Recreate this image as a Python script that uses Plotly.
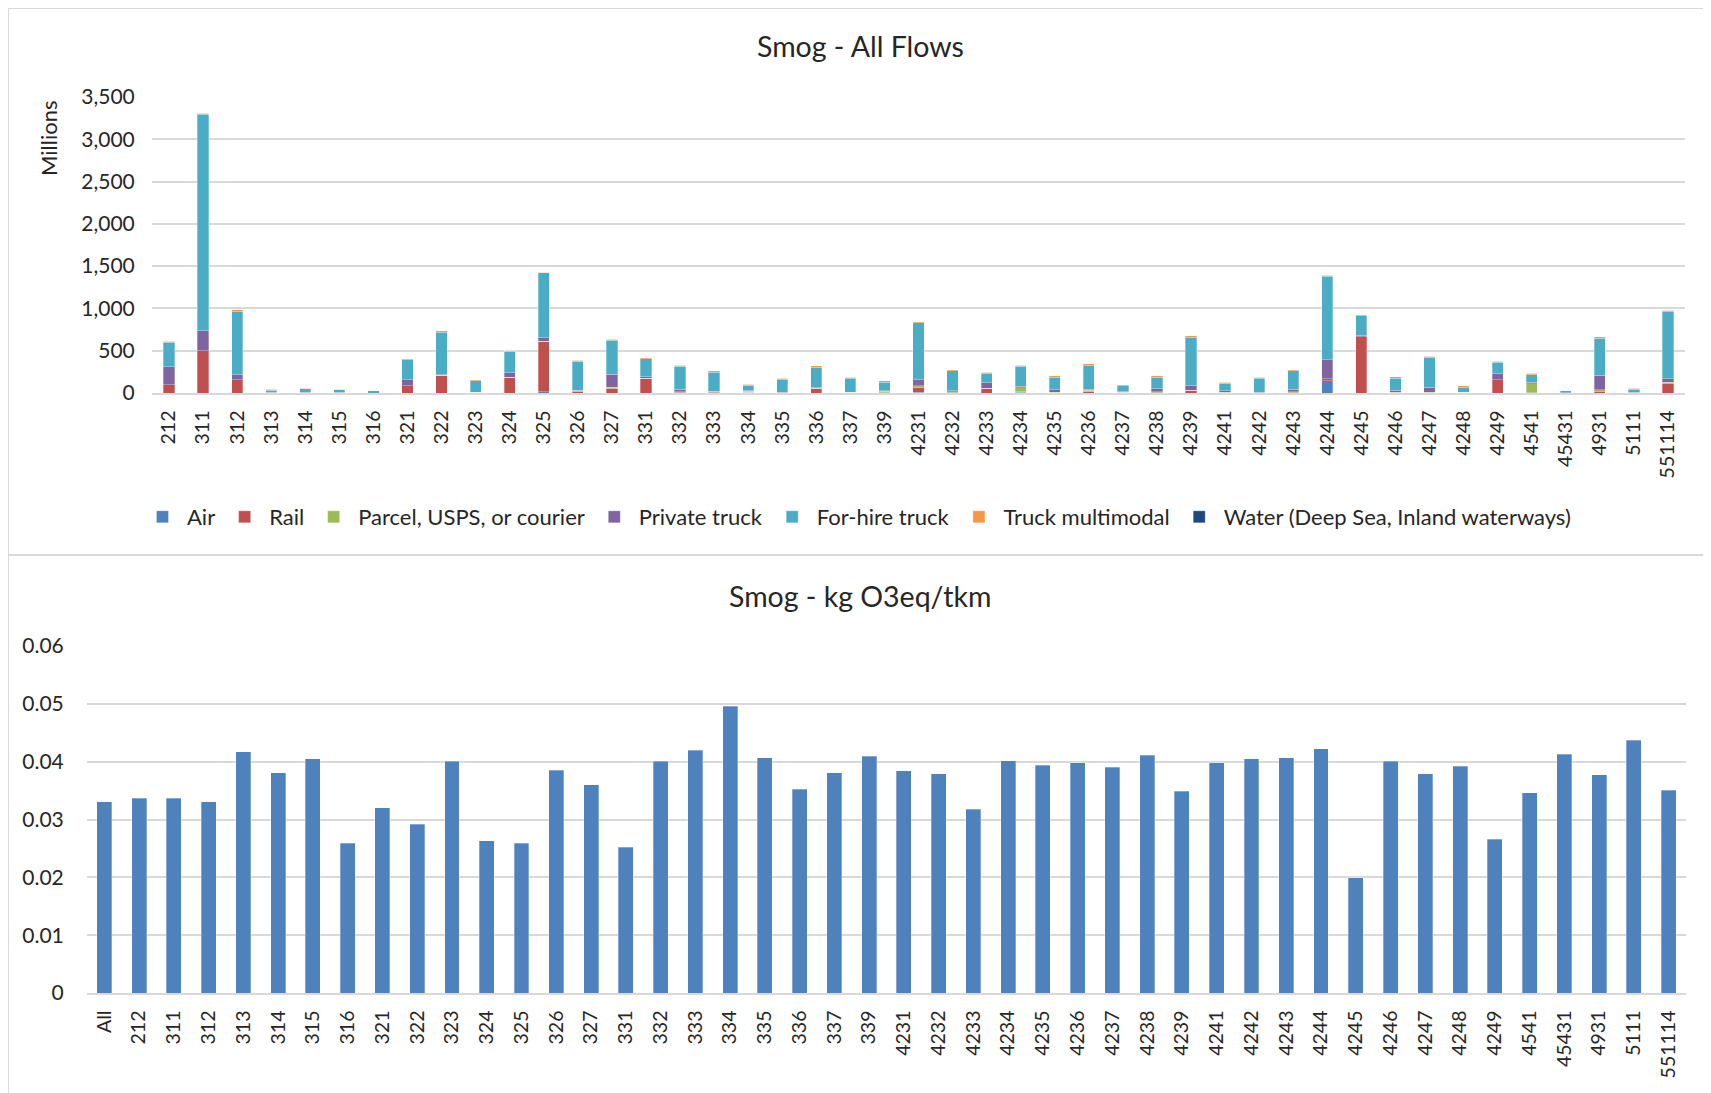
import plotly.graph_objects as go

# ---------------- data ----------------
flow_categories = ["212","311","312","313","314","315","316","321","322","323","324","325","326","327",
                   "331","332","333","334","335","336","337","339","4231","4232","4233","4234","4235",
                   "4236","4237","4238","4239","4241","4242","4243","4244","4245","4246","4247","4248",
                   "4249","4541","45431","4931","5111","551114"]

air = [0,0,0,0,0,0,0,0,0,0,0,15,0,0,0,0,0,8,0,0,0,0,10,0,0,10,0,0,5,0,0,0,0,0,146,0,0,0,0,0,0,0,0,0,0]
rail = [95,500,155,3,2,2,0,85,210,5,185,595,12,50,175,10,10,0,3,55,3,3,55,5,55,5,5,15,3,5,30,5,3,5,20,665,5,5,3,155,3,0,20,3,115]
parcel = [3,2,3,2,1,1,0,3,2,2,2,3,15,20,2,3,3,15,2,3,3,18,20,12,3,50,3,20,3,10,3,3,2,12,3,3,3,3,3,3,105,0,20,2,12]
private_truck = [215,235,60,3,3,3,0,70,5,3,55,40,5,150,15,30,8,8,3,8,3,5,70,8,63,16,30,10,12,35,50,18,5,25,225,12,22,60,5,70,20,2,170,5,40]
for_hire_truck = [287,2562,751,27,42,30,25,236,504,136,251,766,346,403,214,272,227,60,157,241,168,104,673,239,112,234,151,286,64,139,579,92,163,222,985,234,147,354,60,134,89,24,440,37,798]
truck_multimodal = [12,10,15,12,11,11,3,12,15,12,15,11,12,15,12,12,14,11,12,14,12,14,15,12,14,14,14,14,13,14,14,12,14,12,12,14,14,15,14,14,14,2,14,12,14]
water = [0]*45

series_names = ["Air","Rail","Parcel, USPS, or courier","Private truck","For-hire truck","Truck multimodal",
                "Water (Deep Sea, Inland waterways)"]
series_values = [air, rail, parcel, private_truck, for_hire_truck, truck_multimodal, water]
series_colors = ["#4F81BD","#C0504D","#9BBB59","#8064A2","#4BACC6","#F79646","#1F497D"]

intensity_categories = ["All"] + flow_categories
intensity = [0.0331,0.0337,0.0337,0.0331,0.0417,0.0381,0.0405,0.0259,0.0320,0.0292,0.0401,0.0263,0.0259,
             0.0385,0.0360,0.0252,0.0401,0.0420,0.0496,0.0407,0.0352,0.0381,0.0409,0.0384,0.0379,0.0318,
             0.0402,0.0394,0.0398,0.0390,0.0411,0.0349,0.0398,0.0405,0.0407,0.0422,0.0199,0.0401,0.0379,
             0.0392,0.0266,0.0346,0.0413,0.0377,0.0437,0.0351]

top_ticks = [0,500,1000,1500,2000,2500,3000,3500]
top_ticktext = ["0","500","1,000","1,500","2,000","2,500","3,000","3,500"]
bottom_ticks = [0,0.01,0.02,0.03,0.04,0.05,0.06]
bottom_ticktext = ["0","0.01","0.02","0.03","0.04","0.05","0.06"]

# ---------------- figure ----------------
W, H = 1711, 1093
OFF = 8  # page body margin offset
FONT = "Lato, 'Open Sans', sans-serif"
TXT = "#262626"
GRID = "#d9d9d9"

def px(x):
    return (x - OFF) / W

def py(y):
    return 1 - (y - OFF) / H

fig = go.Figure()

for name, vals, col in zip(series_names, series_values, series_colors):
    fig.add_trace(go.Bar(
        x=flow_categories, y=vals, name=name, marker_color=col,
        marker_line_color="rgba(255,255,255,0.5)", marker_line_width=0.6,
        width=0.33, xaxis="x", yaxis="y"))

fig.add_trace(go.Bar(
    x=intensity_categories, y=intensity, name="kg O3eq/tkm", marker_color="#4F81BD",
    marker_line_color="rgba(255,255,255,0.5)", marker_line_width=0.6,
    width=0.43, showlegend=False, xaxis="x2", yaxis="y2"))

axis_common = dict(showgrid=True, gridcolor=GRID, gridwidth=1.5, zeroline=False, showline=False,
                   automargin=False, tickfont=dict(family=FONT, size=21, color=TXT))

fig.update_layout(
    template="none",
    width=W, height=H, margin=dict(l=0, r=0, t=0, b=0, pad=0, autoexpand=False),
    paper_bgcolor="white", plot_bgcolor="white",
    barmode="stack",
    font=dict(family=FONT, color=TXT),
    xaxis=dict(domain=[px(152), px(1685)], anchor="y", type="category", automargin=False,
               tickangle=-90, showgrid=False, showline=True, linecolor=GRID, linewidth=1.5,
               ticks="outside", ticklen=8, tickcolor="rgba(0,0,0,0)",
               tickfont=dict(family=FONT, size=19.5, color=TXT)),
    yaxis=dict(domain=[py(393), py(97)], anchor="x", range=[0, 3500],
               tickvals=top_ticks, ticktext=top_ticktext, ticks="outside", ticklen=12,
               tickcolor="rgba(0,0,0,0)", **axis_common),
    xaxis2=dict(domain=[px(87), px(1686)], anchor="y2", type="category", automargin=False,
                tickangle=-90, showgrid=False, showline=True, linecolor=GRID, linewidth=1.5,
                ticks="outside", ticklen=8, tickcolor="rgba(0,0,0,0)",
                tickfont=dict(family=FONT, size=19.5, color=TXT)),
    yaxis2=dict(domain=[py(993), py(646)], anchor="x2", range=[0, 0.06],
                tickvals=bottom_ticks, ticktext=bottom_ticktext, ticks="outside", ticklen=18,
                tickcolor="rgba(0,0,0,0)", **axis_common),
    legend=dict(orientation="h", x=px(138), y=py(517), xanchor="left", yanchor="middle",
                font=dict(family=FONT, size=22, color=TXT), traceorder="normal",
                itemwidth=39, bgcolor="rgba(0,0,0,0)", borderwidth=0),
    showlegend=True,
    shapes=[
        dict(type="rect", xref="paper", yref="paper", x0=px(8), x1=px(1730), y0=py(555), y1=py(8),
             line=dict(color=GRID, width=2), fillcolor="rgba(0,0,0,0)", layer="below"),
        dict(type="rect", xref="paper", yref="paper", x0=px(8), x1=px(1730), y0=py(1110), y1=py(555),
             line=dict(color=GRID, width=2), fillcolor="rgba(0,0,0,0)", layer="below"),
    ],
    annotations=[
        dict(text="Smog - All Flows", xref="paper", yref="paper", x=px(860), y=py(46),
             xanchor="center", yanchor="middle", showarrow=False,
             font=dict(family=FONT, size=28.5, color=TXT)),
        dict(text="Smog - kg O3eq/tkm", xref="paper", yref="paper", x=px(860), y=py(596),
             xanchor="center", yanchor="middle", showarrow=False,
             font=dict(family=FONT, size=28.5, color=TXT)),
        dict(text="Millions", xref="paper", yref="paper", x=px(49), y=py(139), textangle=-90,
             xanchor="center", yanchor="middle", showarrow=False,
             font=dict(family=FONT, size=22, color=TXT)),
    ],
)

fig.write_html("out.html")
